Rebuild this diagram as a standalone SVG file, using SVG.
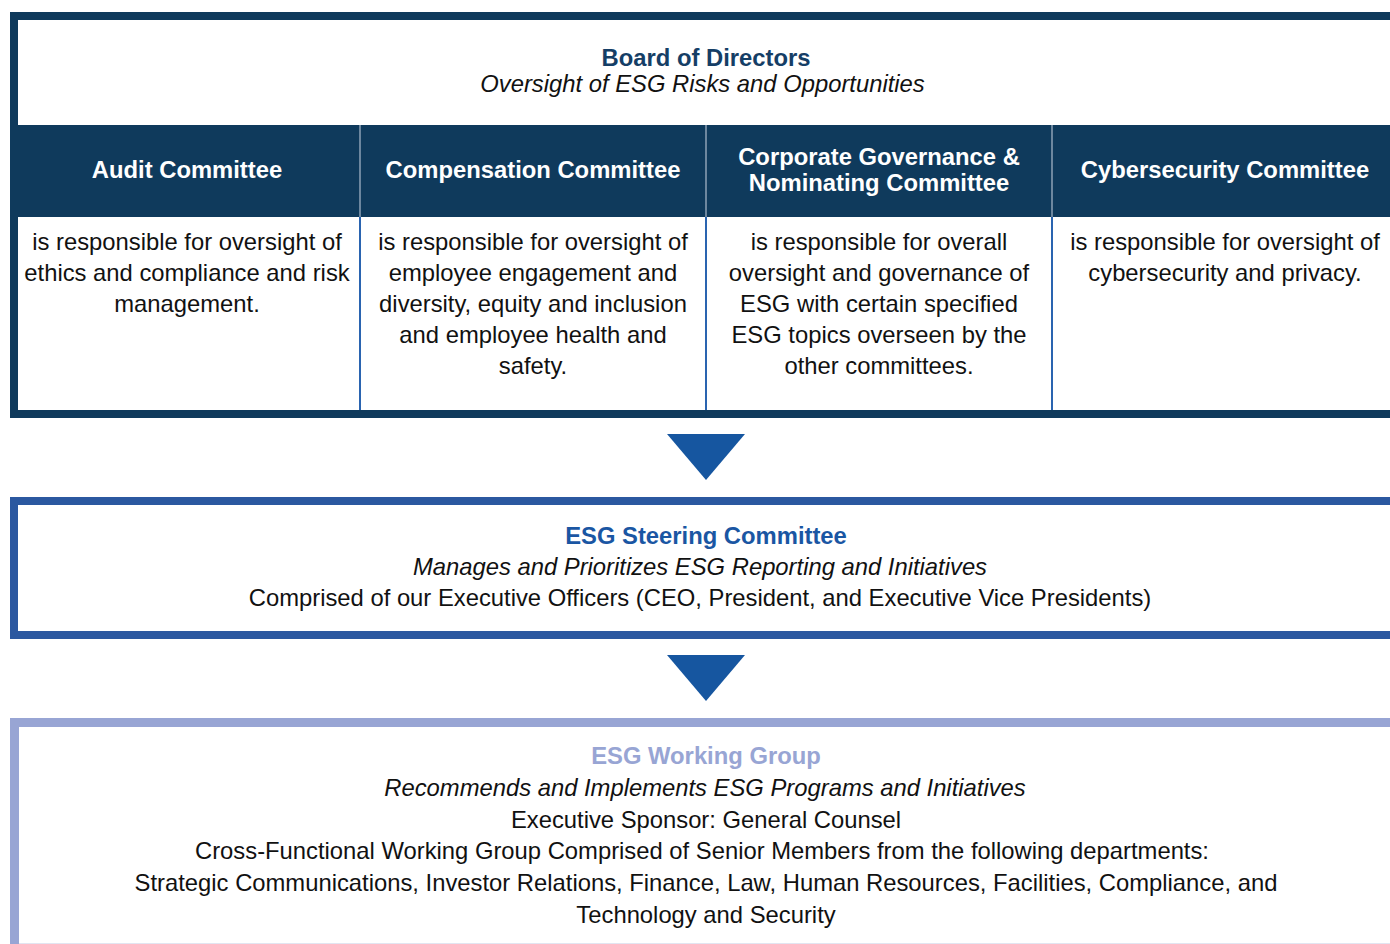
<svg xmlns="http://www.w3.org/2000/svg" width="1390" height="944" viewBox="0 0 1390 944">
<style>
text{font-family:"Liberation Sans",Arial,Helvetica,sans-serif;font-size:23.8px;text-anchor:middle;fill:#111}
.b{font-weight:bold}
.i{font-style:italic}
.hd{font-weight:bold;fill:#ffffff}
.navy{fill:#0f3a5c}
.hdiv{stroke:#8ea2b6;stroke-width:1.5}
.bdiv{stroke:#2a64b0;stroke-width:2}
.arrow{fill:#1656a0}
</style>
<rect width="1390" height="944" fill="#ffffff"/>
<g id="board">
<rect x="14" y="16" width="1384" height="398" fill="#ffffff" stroke="#0f3a5c" stroke-width="8"/>
<rect class="navy" x="18" y="125" width="1380" height="92"/>
<text class="b" x="706" y="66" style="fill:#153e66">Board of Directors</text>
<text class="i" x="702.5" y="92">Oversight of ESG Risks and Opportunities</text>
<line class="hdiv" x1="360" y1="125" x2="360" y2="217"/>
<line class="hdiv" x1="706" y1="125" x2="706" y2="217"/>
<line class="hdiv" x1="1052" y1="125" x2="1052" y2="217"/>
<line class="bdiv" x1="360" y1="217" x2="360" y2="410"/>
<line class="bdiv" x1="706" y1="217" x2="706" y2="410"/>
<line class="bdiv" x1="1052" y1="217" x2="1052" y2="410"/>
<g id="audit">
<text class="hd" x="187" y="178">Audit Committee</text>
<text x="187" y="250">is responsible for oversight of</text>
<text x="187" y="281">ethics and compliance and risk</text>
<text x="187" y="312">management.</text>
</g>
<g id="compensation">
<text class="hd" x="533" y="178">Compensation Committee</text>
<text x="533" y="250">is responsible for oversight of</text>
<text x="533" y="281">employee engagement and</text>
<text x="533" y="312">diversity, equity and inclusion</text>
<text x="533" y="343">and employee health and</text>
<text x="533" y="374">safety.</text>
</g>
<g id="governance">
<text class="hd" x="879" y="165">Corporate Governance &amp;</text>
<text class="hd" x="879" y="191">Nominating Committee</text>
<text x="879" y="250">is responsible for overall</text>
<text x="879" y="281">oversight and governance of</text>
<text x="879" y="312">ESG with certain specified</text>
<text x="879" y="343">ESG topics overseen by the</text>
<text x="879" y="374">other committees.</text>
</g>
<g id="cyber">
<text class="hd" x="1225" y="178">Cybersecurity Committee</text>
<text x="1225" y="250">is responsible for oversight of</text>
<text x="1225" y="281">cybersecurity and privacy.</text>
</g>
</g>
<g id="connectors">
<polygon class="arrow" points="667,434 745,434 706,480"/>
<polygon class="arrow" points="667,655 745,655 706,701"/>
</g>
<g id="steering">
<rect x="14" y="501" width="1384" height="134" fill="#ffffff" stroke="#2b58a0" stroke-width="8"/>
<text class="b" x="706" y="544" style="fill:#1a56a3">ESG Steering Committee</text>
<text class="i" x="700" y="575">Manages and Prioritizes ESG Reporting and Initiatives</text>
<text x="700" y="606">Comprised of our Executive Officers (CEO, President, and Executive Vice Presidents)</text>
</g>
<g id="working">
<rect x="14.5" y="722.5" width="1384" height="240" fill="#ffffff" stroke="#98a5d4" stroke-width="9"/>
<line x1="19" y1="943.5" x2="1390" y2="943.5" stroke="#e2e5f1" stroke-width="1"/>
<text class="b" x="706" y="764" style="fill:#98a5d4">ESG Working Group</text>
<text class="i" x="705" y="796">Recommends and Implements ESG Programs and Initiatives</text>
<text x="706" y="828">Executive Sponsor: General Counsel</text>
<text x="702" y="859">Cross-Functional Working Group Comprised of Senior Members from the following departments:</text>
<text x="706" y="891">Strategic Communications, Investor Relations, Finance, Law, Human Resources, Facilities, Compliance, and</text>
<text x="706" y="923">Technology and Security</text>
</g>
</svg>
